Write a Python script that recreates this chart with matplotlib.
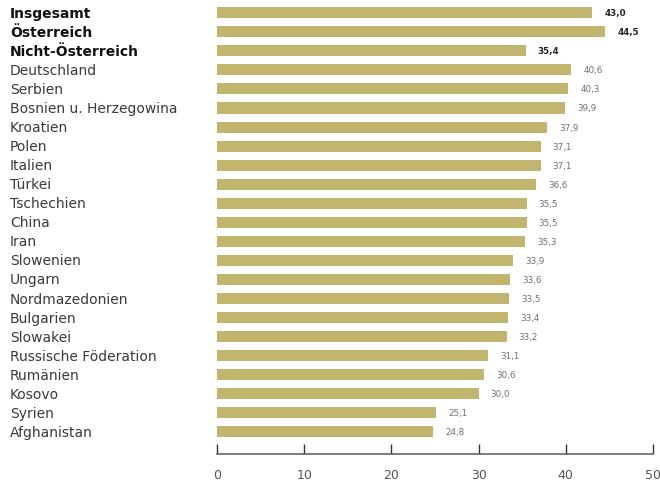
import matplotlib
matplotlib.use("Agg")
import matplotlib.pyplot as plt
from matplotlib.transforms import blended_transform_factory

categories = ["Insgesamt", "Österreich", "Nicht-Österreich", "Deutschland", "Serbien",
              "Bosnien u. Herzegowina", "Kroatien", "Polen", "Italien", "Türkei",
              "Tschechien", "China", "Iran", "Slowenien", "Ungarn", "Nordmazedonien",
              "Bulgarien", "Slowakei", "Russische Föderation", "Rumänien", "Kosovo",
              "Syrien", "Afghanistan"]
values = [43.0, 44.5, 35.4, 40.6, 40.3, 39.9, 37.9, 37.1, 37.1, 36.6, 35.5, 35.5,
          35.3, 33.9, 33.6, 33.5, 33.4, 33.2, 31.1, 30.6, 30.0, 25.1, 24.8]
bold_rows = ["Insgesamt", "Österreich", "Nicht-Österreich"]
xticks = [0, 10, 20, 30, 40, 50]

bar_color = "#C2B56E"
fig = plt.figure(figsize=(6.6, 4.81), dpi=100)
ax = fig.add_axes([217/660, 1 - 455/481, (653-217)/660, 455/481])

n = len(categories)
ypos = list(range(n))
ax.barh(ypos, values, height=0.58, color=bar_color)
ax.set_xlim(0, 50)
ax.set_ylim(n - 1 + 1.16, -0.72)

label_tr = blended_transform_factory(fig.transFigure, ax.transData)
for y, v, c in zip(ypos, values, categories):
    isb = c in bold_rows
    ax.text(v + 1.4, y, f"{v:.1f}".replace(".", ","), va="center", ha="left",
            fontsize=6.3, color="#222222" if isb else "#707070",
            fontweight="bold" if isb else "normal")
    ax.text(10/660, y, c, transform=label_tr,
            va="center", ha="left", fontsize=10,
            color="#111111" if isb else "#3a3a3a",
            fontweight="bold" if isb else "normal")

ax.set_yticks([])
ax.set_xticks(xticks)
ax.set_xticklabels([str(t) for t in xticks], fontsize=9, color="#555555")
ax.tick_params(axis="x", direction="in", length=7, width=1, color="#333333", pad=10)
for s in ["top", "right", "left"]:
    ax.spines[s].set_visible(False)
ax.spines["bottom"].set_color("#666666")
ax.spines["bottom"].set_linewidth(1.2)

fig.savefig("out.png", dpi=100)
